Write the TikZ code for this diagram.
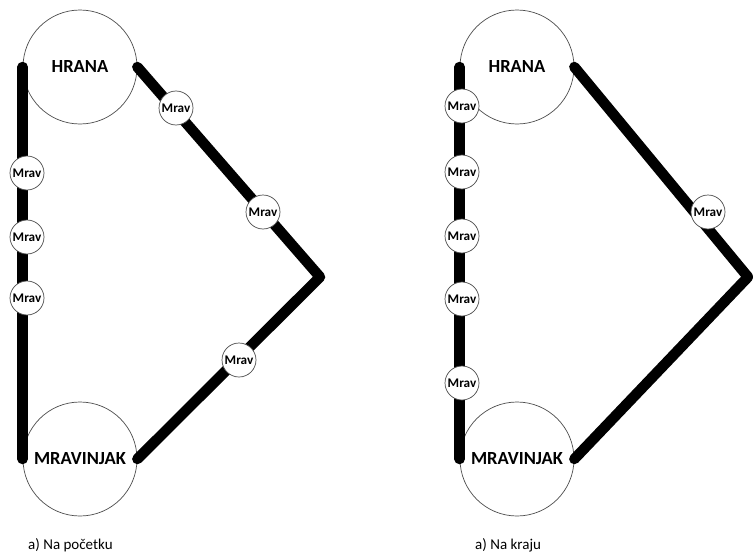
\documentclass[tikz,border=0pt]{standalone}
\usepackage{fontspec}
\setmainfont{Carlito}
\begin{document}
\begin{tikzpicture}[x=1pt,y=-1pt,
 place/.style={circle,draw=black!70,line width=0.7pt,fill=white,minimum size=114pt,inner sep=0pt,font=\bfseries\fontsize{18.5}{19}\selectfont},
 ant/.style={circle,draw=black!70,line width=0.7pt,fill=white,minimum size=34pt,inner sep=0pt,font=\bfseries\fontsize{13.2}{13}\selectfont},
 trail/.style={line width=10.5pt,line cap=round,line join=round},
 caption/.style={font=\fontsize{15}{16}\selectfont,anchor=west,inner sep=0pt}]
\useasboundingbox (0,0) rectangle (753,554);
% left diagram
\node[place] (h1) at (80,67) {HRANA};
\node[place] (m1) at (80,459) {MRAVINJAK};
\coordinate (p1) at (320,277);
\draw[trail] (h1.west) -- (m1.west);
\draw[trail] (h1.east) -- (p1) -- (m1.east);
\node[ant] (a11) at (27,173) {Mrav};
\node[ant] (a12) at (27,237) {Mrav};
\node[ant] (a13) at (27,298) {Mrav};
\node[ant] (a14) at (176,108) {Mrav};
\node[ant] (a15) at (263,212) {Mrav};
\node[ant] (a16) at (239,360) {Mrav};
\node[caption] (c1) at (28,545) {a) Na početku};
% right diagram
\node[place] (h2) at (517,67) {HRANA};
\node[place] (m2) at (517,459) {MRAVINJAK};
\coordinate (p2) at (748,277);
\draw[trail] (h2.west) -- (m2.west);
\draw[trail] (h2.east) -- (p2) -- (m2.east);
\node[ant] (a21) at (462,106) {Mrav};
\node[ant] (a22) at (462,172) {Mrav};
\node[ant] (a23) at (462,236) {Mrav};
\node[ant] (a24) at (462,299) {Mrav};
\node[ant] (a25) at (462,383) {Mrav};
\node[ant] (a26) at (708,212) {Mrav};
\node[caption] (c2) at (475,545) {a) Na kraju};
\end{tikzpicture}
\end{document}
